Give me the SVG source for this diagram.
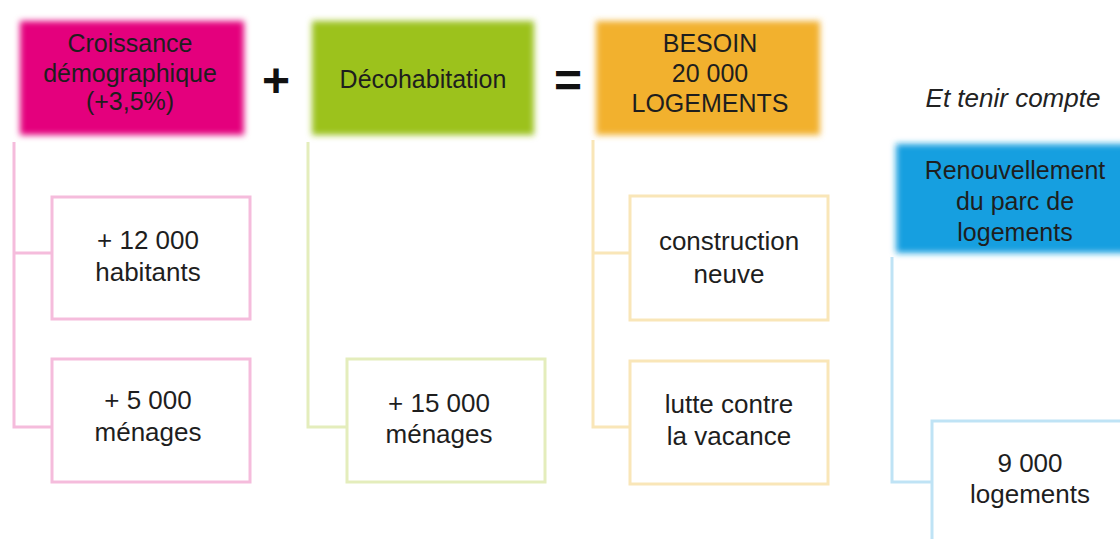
<svg xmlns="http://www.w3.org/2000/svg" width="1120" height="539" viewBox="0 0 1120 539">
<defs>
<filter id="soft" x="-10%" y="-10%" width="120%" height="120%"><feGaussianBlur stdDeviation="3"/></filter>
<style>
text{font-family:"Liberation Sans",Arial,sans-serif;fill:#1e1e1e;text-anchor:middle;font-size:25px}
.bt{font-size:26px}
.op{font-size:48px;font-weight:bold;fill:#111}
.it{font-style:italic;font-size:26px;fill:#222}
.box{fill:#fff;stroke-width:3}
.pk{stroke:#f5bcdc}
.gr{stroke:#e4edbc}
.or{stroke:#f9e6b8}
.bl{stroke:#bfe3f5}
.ln{fill:none;stroke-width:3}
</style>
</defs>
<rect width="1120" height="539" fill="#fff"/>
<g id="connectors">
<polyline class="ln pk" points="14,142 14,427 52,427"/>
<line class="ln pk" x1="14" y1="253" x2="52" y2="253"/>
<polyline class="ln gr" points="308,142 308,427 347,427"/>
<polyline class="ln or" points="593,140 593,427 630,427"/>
<line class="ln or" x1="593" y1="253" x2="630" y2="253"/>
<polyline class="ln bl" points="892,257 892,482 932,482"/>
</g>
<g id="croissance">
<rect x="20" y="21" width="224" height="114" fill="#e4007d" filter="url(#soft)"/>
<text x="130" y="52">Croissance</text>
<text x="130" y="82">démographique</text>
<text x="130" y="110">(+3,5%)</text>
</g>
<text class="op" x="276" y="97">+</text>
<g id="decohabitation">
<rect x="312" y="21" width="222" height="114" fill="#9cc21a" filter="url(#soft)"/>
<text x="423" y="88">Décohabitation</text>
</g>
<text class="op" x="568" y="97">=</text>
<g id="besoin">
<rect x="596" y="21" width="224" height="114" fill="#f2b12f" filter="url(#soft)"/>
<text x="710" y="52">BESOIN</text>
<text x="710" y="82">20 000</text>
<text x="710" y="112">LOGEMENTS</text>
</g>
<text class="it" x="1013" y="107">Et tenir compte</text>
<g id="renouvellement">
<rect x="896" y="144" width="240" height="109" fill="#179fe0" filter="url(#soft)"/>
<text x="1015" y="179">Renouvellement</text>
<text x="1015" y="210">du parc de</text>
<text x="1015" y="241">logements</text>
</g>
<g id="habitants">
<rect class="box pk" x="52" y="197" width="198" height="122"/>
<text class="bt" x="148" y="249">+ 12 000</text>
<text class="bt" x="148" y="281">habitants</text>
</g>
<g id="menages1">
<rect class="box pk" x="52" y="359" width="198" height="123"/>
<text class="bt" x="148" y="409">+ 5 000</text>
<text class="bt" x="148" y="441">ménages</text>
</g>
<g id="menages2">
<rect class="box gr" x="347" y="359" width="198" height="123"/>
<text class="bt" x="439" y="412">+ 15 000</text>
<text class="bt" x="439" y="443">ménages</text>
</g>
<g id="construction">
<rect class="box or" x="630" y="196" width="198" height="124"/>
<text class="bt" x="729" y="250">construction</text>
<text class="bt" x="729" y="283">neuve</text>
</g>
<g id="vacance">
<rect class="box or" x="630" y="361" width="198" height="123"/>
<text class="bt" x="729" y="413">lutte contre</text>
<text class="bt" x="729" y="445">la vacance</text>
</g>
<g id="logements">
<rect class="box bl" x="932" y="421" width="200" height="130"/>
<text class="bt" x="1030" y="472">9 000</text>
<text class="bt" x="1030" y="503">logements</text>
</g>
</svg>
